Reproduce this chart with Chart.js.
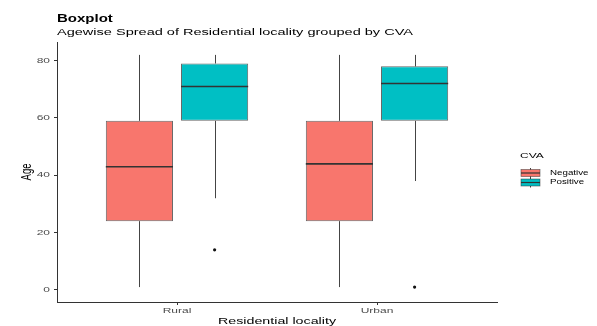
<!DOCTYPE html>
<html>
<head>
<meta charset="utf-8">
<script src="https://cdn.jsdelivr.net/npm/chart.js@4"></script>
<style>
  html, body { margin: 0; padding: 0; background: #ffffff; }
  #wrap { width: 597px; height: 326px; }
</style>
</head>
<body>
<div id="wrap"><canvas id="c" width="597" height="326"></canvas></div>
<script>
// Residential locality groups on the x axis
const categories = ['Rural', 'Urban'];
const groups = ['Negative', 'Positive'];
const groupColors = ['#F8766D', '#00BFC4'];

// Five-number summaries of Age, CVA = Negative
const negMin = [1, 1];
const negQ1 = [24, 24];
const negMedian = [43, 44];
const negQ3 = [59, 59];
const negMax = [82, 82];
const negOutliers = [[], []];

// Five-number summaries of Age, CVA = Positive
const posMin = [32, 38];
const posQ1 = [59, 59];
const posMedian = [71, 72];
const posQ3 = [79, 78];
const posMax = [82, 82];
const posOutliers = [[14], [1]];

// Axis ticks
const yTicks = [0, 20, 40, 60, 80];
const xTicks = [0, 1];

const FONT = "'Liberation Sans', Arial, Helvetica, sans-serif";
const SX = 1.5; // horizontal text stretch

const summaries = [
  { min: negMin, q1: negQ1, med: negMedian, q3: negQ3, max: negMax, out: negOutliers },
  { min: posMin, q1: posQ1, med: posMedian, q3: posQ3, max: posMax, out: posOutliers }
];

function boxData(s) {
  return categories.map((c, i) => ({ x: i, y: [s.q1[i], s.q3[i]] }));
}

function stretchedText(ctx, text, x, y, opts) {
  ctx.save();
  ctx.translate(x, y);
  if (opts.rotate) ctx.rotate(opts.rotate);
  if (opts.rotate) ctx.scale(1, SX); else ctx.scale(SX, 1);
  ctx.font = opts.font;
  ctx.fillStyle = opts.color || '#000';
  ctx.textAlign = opts.align || 'left';
  ctx.textBaseline = opts.baseline || 'alphabetic';
  ctx.fillText(text, 0, 0);
  ctx.restore();
}

const boxplotParts = {
  id: 'boxplotParts',
  beforeDatasetsDraw(chart) {
    const ctx = chart.ctx;
    const y = chart.scales.y;
    ctx.save();
    ctx.strokeStyle = '#444444';
    ctx.lineWidth = 1;
    chart.data.datasets.forEach((ds, di) => {
      const s = summaries[di];
      chart.getDatasetMeta(di).data.forEach((bar, i) => {
        const bx = Math.round(bar.x) + 0.5;
        ctx.beginPath();
        ctx.moveTo(bx, y.getPixelForValue(s.max[i]));
        ctx.lineTo(bx, y.getPixelForValue(s.q3[i]));
        ctx.moveTo(bx, y.getPixelForValue(s.q1[i]));
        ctx.lineTo(bx, y.getPixelForValue(s.min[i]));
        ctx.stroke();
      });
    });
    ctx.restore();
  },
  afterDatasetsDraw(chart) {
    const ctx = chart.ctx;
    const y = chart.scales.y;
    ctx.save();
    chart.data.datasets.forEach((ds, di) => {
      const s = summaries[di];
      chart.getDatasetMeta(di).data.forEach((bar, i) => {
        const half = bar.width / 2;
        const my = y.getPixelForValue(s.med[i]);
        ctx.strokeStyle = '#333333';
        ctx.lineWidth = 1.6;
        ctx.beginPath();
        ctx.moveTo(bar.x - half, my);
        ctx.lineTo(bar.x + half, my);
        ctx.stroke();
        ctx.fillStyle = '#111111';
        s.out[i].forEach(v => {
          ctx.beginPath();
          ctx.arc(bar.x, y.getPixelForValue(v), 1.6, 0, Math.PI * 2);
          ctx.fill();
        });
      });
    });
    ctx.restore();
  },
  afterDraw(chart) {
    const ctx = chart.ctx;
    const xs = chart.scales.x, ys = chart.scales.y;
    const area = chart.chartArea;

    // Titles
    stretchedText(ctx, 'Boxplot', 57, 22, { font: 'bold 10px ' + FONT, color: '#000' });
    stretchedText(ctx, 'Agewise Spread of Residential locality grouped by CVA', 57, 34.5,
      { font: '9.7px ' + FONT, color: '#000' });

    // Y tick labels
    yTicks.forEach(v => {
      stretchedText(ctx, String(v), area.left - 7, ys.getPixelForValue(v),
        { font: '8px ' + FONT, color: '#4D4D4D', align: 'right', baseline: 'middle' });
    });
    // X tick labels
    xTicks.forEach((v, i) => {
      stretchedText(ctx, categories[i], xs.getPixelForValue(v), area.bottom + 9,
        { font: '8px ' + FONT, color: '#4D4D4D', align: 'center', baseline: 'middle' });
    });

    // Axis titles
    stretchedText(ctx, 'Residential locality', (area.left + area.right) / 2, 324,
      { font: '9.5px ' + FONT, color: '#000', align: 'center' });
    stretchedText(ctx, 'Age', 27, (area.top + area.bottom) / 2,
      { font: '9.5px ' + FONT, color: '#000', align: 'center', baseline: 'middle', rotate: -Math.PI / 2 });

    // Legend
    stretchedText(ctx, 'CVA', 520, 156, { font: '8px ' + FONT, color: '#000', baseline: 'middle' });
    const rows = [173, 182.5];
    groups.forEach((g, gi) => {
      const cy = rows[gi];
      ctx.save();
      ctx.strokeStyle = '#444444';
      ctx.lineWidth = 1;
      ctx.beginPath();
      ctx.moveTo(530.5, cy - 5);
      ctx.lineTo(530.5, cy + 5);
      ctx.stroke();
      ctx.fillStyle = groupColors[gi];
      ctx.fillRect(521, cy - 3.5, 19, 7);
      ctx.strokeStyle = 'rgba(51,51,51,0.7)';
      ctx.lineWidth = 0.7;
      ctx.strokeRect(521, cy - 3.5, 19, 7);
      ctx.strokeStyle = '#333333';
      ctx.lineWidth = 1.2;
      ctx.beginPath();
      ctx.moveTo(521, cy);
      ctx.lineTo(540, cy);
      ctx.stroke();
      ctx.restore();
      stretchedText(ctx, g, 550, cy, { font: '6.5px ' + FONT, color: '#000', baseline: 'middle' });
    });
  }
};

new Chart(document.getElementById('c'), {
  type: 'bar',
  data: {
    datasets: groups.map((g, gi) => ({
      label: g,
      data: boxData(summaries[gi]),
      backgroundColor: groupColors[gi],
      borderColor: 'rgba(51,51,51,0.75)',
      borderWidth: 1,
      borderSkipped: false,
      categoryPercentage: 0.752,
      barPercentage: 0.893
    }))
  },
  options: {
    responsive: false,
    animation: false,
    layout: { padding: { top: 42, right: 100, left: 0, bottom: 0 } },
    plugins: {
      legend: { display: false },
      tooltip: { enabled: false },
      title: { display: false }
    },
    scales: {
      x: {
        type: 'linear',
        min: -0.6,
        max: 1.6,
        offset: false,
        afterBuildTicks: s => { s.ticks = xTicks.map(v => ({ value: v })); },
        afterFit: s => { s.height = 24; },
        ticks: { display: false },
        grid: { offset: false, drawOnChartArea: false, drawTicks: true, tickLength: 3, color: '#333333' },
        border: { color: '#333333', width: 1 }
      },
      y: {
        type: 'linear',
        min: -4.2,
        max: 86.5,
        afterBuildTicks: s => { s.ticks = yTicks.map(v => ({ value: v })); },
        afterFit: s => { s.width = 57; },
        ticks: { display: false },
        grid: { drawOnChartArea: false, drawTicks: true, tickLength: 3, color: '#333333' },
        border: { color: '#333333', width: 1 }
      }
    }
  },
  plugins: [boxplotParts]
});
</script>
</body>
</html>
